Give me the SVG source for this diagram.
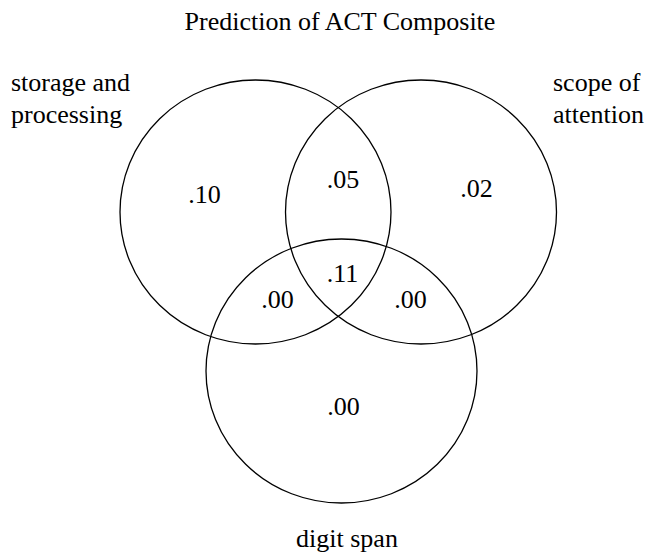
<svg xmlns="http://www.w3.org/2000/svg" width="646" height="554" viewBox="0 0 646 554">
<style>
text{font-size:26px;fill:#000}
.m{text-anchor:middle}
.c{fill:none;stroke:#000;stroke-width:1.3}
</style>
<rect width="646" height="554" fill="#fff"/>
<g font-family="Liberation Serif, DejaVu Serif, serif">
<text class="m" x="340" y="30">Prediction of ACT Composite</text>
<g id="storage">
<ellipse class="c" cx="255.5" cy="212" rx="135.5" ry="132"/>
<text x="11" y="91">storage and</text>
<text x="11" y="123">processing</text>
</g>
<g id="scope">
<ellipse class="c" cx="421" cy="212" rx="135.5" ry="132"/>
<text x="553" y="91">scope of</text>
<text x="553" y="123">attention</text>
</g>
<g id="digit">
<ellipse class="c" cx="341.5" cy="371" rx="135.5" ry="132"/>
<text class="m" x="347" y="547">digit span</text>
</g>
<g id="regions">
<text class="m" x="204.5" y="203">.10</text>
<text class="m" x="343" y="188">.05</text>
<text class="m" x="476.5" y="197">.02</text>
<text class="m" x="342.5" y="282">.11</text>
<text class="m" x="277.5" y="308">.00</text>
<text class="m" x="410.5" y="308">.00</text>
<text class="m" x="343.5" y="415">.00</text>
</g>
</g>
<g id="connectors"/>
</svg>
